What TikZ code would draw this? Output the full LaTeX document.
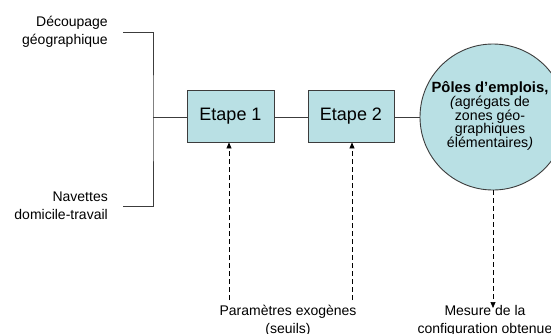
\documentclass[tikz,border=0pt]{standalone}
\usepackage{fontspec}
\setmainfont{Liberation Sans}
\usetikzlibrary{arrows.meta}
\definecolor{boxfill}{RGB}{185,224,228}
\definecolor{linec}{RGB}{60,60,60}
\begin{document}
\begin{tikzpicture}[x=1pt,y=-1pt,
  lab/.style={inner sep=0pt, font=\fontsize{14}{18}\selectfont},
  stepbox/.style={draw=linec, line width=0.9pt, fill=boxfill, minimum height=52pt, inner sep=0pt, font=\fontsize{18}{20}\selectfont},
  pole/.style={circle, draw=linec, line width=0.9pt, fill=boxfill, minimum size=146pt, inner sep=0pt, align=center},
  conn/.style={draw=linec, line width=0.9pt},
  darr/.style={draw=black, line width=0.7pt, dash pattern=on 5pt off 3pt, -{Triangle[length=6pt,width=5pt]}}
]
\useasboundingbox (0,0) rectangle (551,333);

\node[lab, anchor=east, align=right] (dec) at (108,32) {Découpage\\géographique};
\node[lab, anchor=east, align=right] (nav) at (108,206) {Navettes\\domicile-travail};

\node[stepbox, minimum width=87pt] (e1) at (230.5,116) {Etape 1};
\node[stepbox, minimum width=86pt] (e2) at (351,116) {Etape 2};

\node[pole] (p) at (493,117) {};
\node[inner sep=0pt, align=center, anchor=center] (pt) at (490,116) {{\fontsize{14.8}{16}\selectfont\bfseries Pôles d’emplois,}\\[-0.5pt]
  {\fontsize{14.2}{16}\selectfont\itshape(}{\fontsize{14.2}{16}\selectfont agrégats de}\\[-0.5pt]
  {\fontsize{14.2}{16}\selectfont zones géo-}\\[-0.5pt]
  {\fontsize{14.2}{16}\selectfont graphiques}\\[-0.5pt]
  {\fontsize{14.2}{16}\selectfont élémentaires}{\fontsize{14.2}{16}\selectfont\itshape)}};

\node[lab, align=center, anchor=north] (par) at (288,305) {Paramètres exogènes\\(seuils)};
\node[lab, align=center, anchor=north] (mes) at (485,305) {Mesure de la\\configuration obtenue};

\coordinate (t1) at (123,32);
\coordinate (t2) at (123,206);
\coordinate (j) at (153,117);
\coordinate (a1) at (229,300);
\coordinate (a2) at (352,300);
\coordinate (a3) at (493,308);

\draw[conn] (t1) -| (j) |- (t2);
\draw[conn] (j) -- (e1.west |- j);
\draw[conn] (e1.east |- j) -- (e2.west |- j);
\draw[conn] (e2.east |- j) -- (p.west |- j);

\draw[darr] (a1) -- (a1 |- e1.south);
\draw[darr] (a2) -- (a2 |- e2.south);
\draw[darr] (p.south) -- (a3);
\end{tikzpicture}
\end{document}
